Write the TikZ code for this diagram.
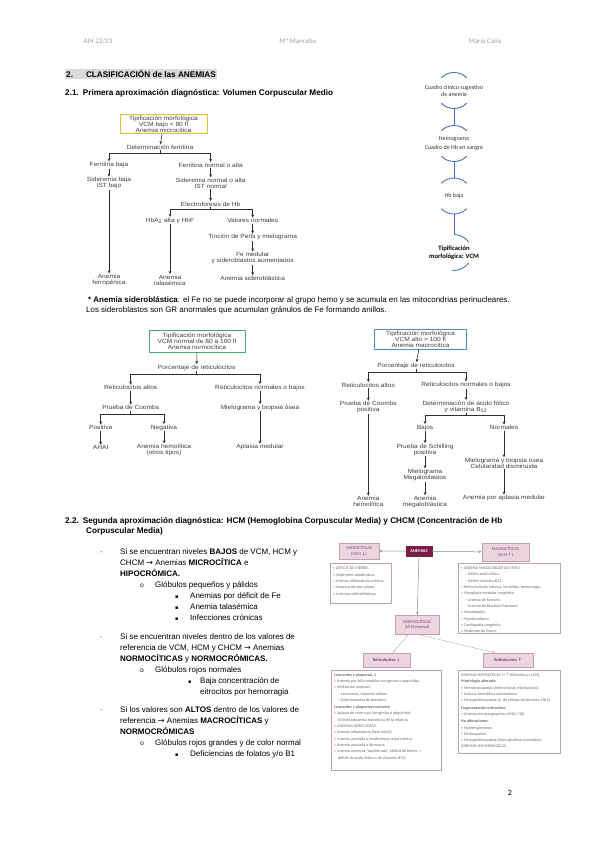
\documentclass[tikz,border=0pt]{standalone}
\usepackage{fontspec}
\setmainfont{Liberation Sans}
\newfontfamily\calibri{Carlito}
\newfontfamily\dejavu{DejaVu Sans}
\newfontfamily\fcfont[FakeStretch=1.1]{Liberation Sans}
\newfontfamily\monofont{Liberation Mono}
\usepackage{tikz}
\usetikzlibrary{arrows.meta}

\definecolor{hdrgray}{HTML}{A0A0A0}
\definecolor{hlgray}{HTML}{D9D9D9}
\definecolor{fctxt}{HTML}{404040}
\definecolor{fcline}{HTML}{2E2E2E}
\definecolor{yellowline}{HTML}{F2BE2C}
\definecolor{greenline}{HTML}{46B06A}
\definecolor{blueline}{HTML}{4A90D0}
\definecolor{smartblue}{HTML}{4472C4}
\definecolor{tblfill}{HTML}{EBD6E0}
\definecolor{tblline}{HTML}{C99BB3}
\definecolor{tblmaroon}{HTML}{7A1C48}
\definecolor{tblhead}{HTML}{7E3A5C}
\definecolor{tbltxt}{HTML}{756870}
\definecolor{tblarrow}{HTML}{8C8C8C}

\newcommand{\arr}{{\dejavu\char"2192}}
\newcommand{\tbul}{\textcolor{tblline}{•}\ }
\newcommand{\tsub}{\hspace*{4pt}– }
\newcommand{\sqbul}{{\dejavu\fontsize{5}{6}\selectfont\char"25AA}}
\newcommand{\obul}{{\monofont\fontsize{6.5}{7}\selectfont o}}
\newcommand{\dn}{{\dejavu\char"2193}}
\newcommand{\up}{{\dejavu\char"2191}}

\tikzset{
  hdr/.style={font=\calibri\fontsize{7}{8}\selectfont, text=hdrgray, inner sep=0pt},
  head/.style={font=\bfseries\fontsize{8.2}{10}\selectfont, anchor=base west, inner sep=0pt},
  body/.style={font=\fontsize{8}{10}\selectfont, anchor=base west, inner sep=0pt},
  fctext/.style={font=\fcfont\fontsize{6}{5.9}\selectfont, text=fctxt, align=center, inner sep=0.6pt},
  fcbox/.style={draw, line width=1pt, inner sep=1pt},
  fcedge/.style={draw=fcline, line width=0.55pt},
  smart/.style={font=\calibri\fontsize{6}{7}\selectfont, text=black!80, align=center, inner sep=0pt},
  sarc/.style={draw=smartblue, line width=0.9pt},
  tblhd/.style={fill=tblfill, draw=tblline, line width=0.4pt, font=\calibri\fontsize{4.3}{5.2}\selectfont, text=tblhead, align=center, inner sep=1pt},
  tblbox/.style={draw=tblline, line width=0.8pt, anchor=north west, inner sep=0pt},
  tbltext/.style={font=\calibri\fontsize{4.1}{6.3}\selectfont, text=tbltxt, align=left, anchor=north west, inner sep=0pt},
  tblarr/.style={draw=tblarrow, line width=0.5pt},
}

\begin{document}
\begin{tikzpicture}[x=1pt,y=-1pt]
\useasboundingbox (0,0) rectangle (599,848);
\fill[white] (0,0) rectangle (599,848);

% page header
\node[hdr] (aih) at (98,41) {AIH 22/23};
\node[hdr] (prof) at (298,41) {Mª Mancebo};
\node[hdr] (alumna) at (485,41) {María Caña};

\node[head, fill=hlgray, inner sep=1pt] (sec2) at (65,77.5) {2.\hspace{13pt}CLASIFICACIÓN de las ANEMIAS};
\node[head] (sec21) at (65,95.5) {2.1.\hspace{4pt}Primera aproximación diagnóstica: Volumen Corpuscular Medio};

% clinical sequence
\begin{scope}[every node/.style={smart}]
    \node (clin) at (454,90.5) {Cuadro clínico sugestivo\\de anemia};
    \node (hemo) at (454,143.5) {Hemograma\\[2pt]Cuadro de Hb en sangre};
    \node (hbbaja) at (454,196) {Hb baja};
    \node[font=\calibri\bfseries\fontsize{6.6}{8}\selectfont, text=black] (tipvcm) at (454,252.5) {Tipificación\\morfológica: VCM};
\end{scope}
\foreach \n in {clin,hemo,hbbaja} {
    \draw[sarc] ([shift={(225:18)}]\n.center) arc[start angle=225,end angle=315,radius=18];
    \draw[sarc] ([shift={(45:18)}]\n.center) arc[start angle=45,end angle=135,radius=18];
}
\draw[sarc] ([yshift=18pt]tipvcm.center) arc[start angle=270,end angle=325,radius=18];
\draw[sarc] ([shift={(35:18)}]tipvcm.center) arc[start angle=35,end angle=95,radius=18];
\draw[sarc] ([yshift=-18pt]clin.center) -- ([yshift=18pt]hemo.center);
\draw[sarc] ([yshift=-18pt]hemo.center) -- ([yshift=18pt]hbbaja.center);
\draw[sarc] ([yshift=-18pt]hbbaja.center) -- ([yshift=18pt]tipvcm.center);

% microcytic flowchart
\begin{scope}[every node/.style={fctext}]
    \node[fcbox, draw=yellowline, minimum width=87pt, minimum height=19.5pt] (ymicro) at (163.5,124) {Tipificación morfológica\\VCM bajo < 80 fl\\Anemia microcítica};
    \node (yferr) at (160,147.3) {Determinación ferritina};
    \node (ybaja) at (109,165) {Ferritina baja};
    \node (ynorm) at (210.7,165) {Ferritina normal o alta};
    \node (ysidb) at (109,183.3) {Sideremia baja\\IST bajo};
    \node (ysidn) at (210.7,183.3) {Sideremia normal o alta\\IST normal};
    \node (yelec) at (210.7,204) {Electroforesis de Hb};
    \node (yhba) at (170,220.7) {HbA\textsubscript{2} alta y HbF};
    \node (yvaln) at (252.7,220.7) {Valores normales};
    \node (yperls) at (252.7,237.3) {Tinción de Perls y mielograma};
    \node (yfemed) at (252.7,258) {Fe medular\\y sideroblastos aumentados};
    \node (yasid) at (252.7,278.3) {Anemia sideroblástica};
    \node (yferro) at (109,280) {Anemia\\ferropénica};
    \node (ytalas) at (170,280) {Anemia\\talasémica};
\end{scope}
\begin{scope}[>={Stealth[length=3.2pt,width=2.8pt]}]
    \path [->] (ymicro) edge [fcedge] (yferr);
    \draw [->,fcedge] (yferr.south) -- ++(0,2.5) -| (ybaja);
    \draw [->,fcedge] (yferr.south) -- ++(0,2.5) -| (ynorm);
    \path [->] (ybaja) edge [fcedge] (ysidb);
    \path [->] (ynorm) edge [fcedge] (ysidn);
    \path [->] (ysidb) edge [fcedge] (yferro);
    \path [->] (ysidn) edge [fcedge] (yelec);
    \draw [->,fcedge] (yelec.south) -- ++(0,2.5) -| (yhba);
    \draw [->,fcedge] (yelec.south) -- ++(0,2.5) -| (yvaln);
    \path [->] (yhba) edge [fcedge] (ytalas);
    \path [->] (yvaln) edge [fcedge] (yperls);
    \path [->] (yperls) edge [fcedge] (yfemed);
    \path [->] (yfemed) edge [fcedge] (yasid);
\end{scope}

% footnote
\node[body, font=\fontsize{7.95}{10}\selectfont] (nota1) at (88,302.5) {\textbf{* Anemia sideroblástica}: el Fe no se puede incorporar al grupo hemo y se acumula en las mitocondrias perinucleares.};
\node[body, font=\fontsize{7.95}{10}\selectfont] (nota2) at (86,312.5) {Los sideroblastos son GR anormales que acumulan gránulos de Fe formando anillos.};

% normocytic flowchart
\begin{scope}[every node/.style={fctext}]
    \node[fcbox, draw=greenline, minimum width=96pt, minimum height=22pt] (gnormo) at (197,341) {Tipificación morfológica\\VCM normal de 80 a 100 fl\\Anemia normocítica};
    \node (gporc) at (196.7,367.7) {Porcentaje de reticulocitos};
    \node (galtos) at (130.7,387.7) {Reticulocitos altos};
    \node (gbajos) at (260,387.7) {Reticulocitos normales o bajos};
    \node (gcoombs) at (130.7,407.7) {Prueba de Coombs};
    \node (gmielo) at (260,407.7) {Mielograma y biopsia ósea};
    \node (gpos) at (100.7,427.7) {Positiva};
    \node (gneg) at (164,427.7) {Negativa};
    \node (gahai) at (100.7,447.7) {AHAI};
    \node (ghemol) at (164,450) {Anemia hemolítica\\(otros tipos)};
    \node (gaplas) at (260,447.3) {Aplasia medular};
\end{scope}
\begin{scope}[>={Stealth[length=3.2pt,width=2.8pt]}]
    \path [->] (gnormo) edge [fcedge] (gporc);
    \draw [->,fcedge] (gporc.south) -- ++(0,3) -| (galtos);
    \draw [->,fcedge] (gporc.south) -- ++(0,3) -| (gbajos);
    \path [->] (galtos) edge [fcedge] (gcoombs);
    \path [->] (gbajos) edge [fcedge] (gmielo);
    \draw [->,fcedge] (gcoombs.south) -- ++(0,3.5) -| (gpos);
    \draw [->,fcedge] (gcoombs.south) -- ++(0,3.5) -| (gneg);
    \path [->] (gpos) edge [fcedge] (gahai);
    \path [->] (gneg) edge [fcedge] (ghemol);
    \path [->] (gmielo) edge [fcedge] (gaplas);
\end{scope}

% macrocytic flowchart
\begin{scope}[every node/.style={fctext}]
    \node[fcbox, draw=blueline, minimum width=92pt, minimum height=20pt] (bmacro) at (420.5,339) {Tipificación morfológica\\VCM alto > 100 fl\\Anemia macrocítica};
    \node (bporc) at (416,365.7) {Porcentaje de reticulocitos};
    \node (baltos) at (368.3,385) {Reticulocitos altos};
    \node (bbajos) at (466,385) {Reticulocitos normales o bajos};
    \node (bcoombs) at (368.3,407.3) {Prueba de Coombs\\positiva};
    \node (bdeter) at (466,406.7) {Determinación de ácido fólico\\y vitamina B\textsubscript{12}};
    \node (bbaj) at (425,427.7) {Bajos};
    \node (bnorm) at (504,427.7) {Normales};
    \node (bschil) at (425,449.7) {Prueba de Schilling\\positiva};
    \node (bmegal) at (425,475) {Mielograma\\Megaloblastos};
    \node (bmegalo) at (425,501.7) {Anemia\\megaloblástica};
    \node (bhemol) at (368.3,501.7) {Anemia\\hemolítica};
    \node (bmielo) at (504,463.3) {Mielograma y biopsia ósea\\Celularidad disminuida};
    \node (baplas) at (504,498.3) {Anemia por aplasia medular};
\end{scope}
\begin{scope}[>={Stealth[length=3.2pt,width=2.8pt]}]
    \path [->] (bmacro) edge [fcedge] (bporc);
    \draw [->,fcedge] (bporc.south) -- ++(0,3) -| (baltos);
    \draw [->,fcedge] (bporc.south) -- ++(0,3) -| (bbajos);
    \path [->] (baltos) edge [fcedge] (bcoombs);
    \path [->] (bbajos) edge [fcedge] (bdeter);
    \path [->] (bcoombs) edge [fcedge] (bhemol);
    \draw [->,fcedge] (bdeter.south) -- ++(0,2) -| (bbaj);
    \draw [->,fcedge] (bdeter.south) -- ++(0,2) -| (bnorm);
    \path [->] (bbaj) edge [fcedge] (bschil);
    \path [->] (bschil) edge [fcedge] (bmegal);
    \path [->] (bmegal) edge [fcedge] (bmegalo);
    \path [->] (bnorm) edge [fcedge] (bmielo);
    \path [->] (bmielo) edge [fcedge] (baplas);
\end{scope}

% section 2.2
\node[head] (sec22) at (65,523.5) {2.2.\hspace{4pt}Segunda aproximación diagnóstica: HCM (Hemoglobina Corpuscular Media) y CHCM (Concentración de Hb};
\node[head] (sec22b) at (86,533.5) {Corpuscular Media)};

\begin{scope}[every node/.style={body}]
    \node[text=black!60] (da) at (100,554.7) {-};
    \node (a1) at (120,554.7) {Si se encuentran niveles \textbf{BAJOS} de VCM, HCM y};
    \node (a2) at (120,565.7) {CHCM \arr{} Anemias \textbf{MICROCÍTICA} e};
    \node (a3) at (120,576.7) {\textbf{HIPOCRÓMICA.}};
    \node (oa) at (140,587.7) {\obul};
    \node (a4) at (155,587.7) {Glóbulos pequeños y pálidos};
    \node (sa1) at (175,598.7) {\sqbul};
    \node (a5) at (190,598.7) {Anemias por déficit de Fe};
    \node (sa2) at (175,609.7) {\sqbul};
    \node (a6) at (190,609.7) {Anemia talasémica};
    \node (sa3) at (175,620.7) {\sqbul};
    \node (a7) at (190,620.7) {Infecciones crónicas};

    \node[text=black!60] (db) at (100,639.7) {-};
    \node (b1) at (120,639.7) {Si se encuentran niveles dentro de los valores de};
    \node (b2) at (120,650.7) {referencia de VCM, HCM y CHCM \arr{} Anemias};
    \node (b3) at (120,661.7) {\textbf{NORMOCÍTICAS} y \textbf{NORMOCRÓMICAS.}};
    \node (ob) at (140,672.7) {\obul};
    \node (b4) at (155,672.7) {Glóbulos rojos normales};
    \node (sb1) at (188,683.7) {\sqbul};
    \node (b5) at (200,683.7) {Baja concentración de};
    \node (b6) at (200,694.7) {eitrocitos por hemorragia};

    \node[text=black!60] (dc) at (100,712.7) {-};
    \node (c1) at (120,712.7) {Si los valores son \textbf{ALTOS} dentro de los valores de};
    \node (c2) at (120,723.7) {referencia \arr{} Anemias \textbf{MACROCÍTICAS} y};
    \node (c3) at (120,734.7) {\textbf{NORMOCRÓMICAS}};
    \node (oc) at (140,745.7) {\obul};
    \node (c4) at (155,745.7) {Glóbulos rojos grandes y de color normal};
    \node (sc1) at (175,756.7) {\sqbul};
    \node (c5) at (190,756.7) {Deficiencias de folatos y/o B1};
\end{scope}

% classification chart
\node[tblhd, fill=tblmaroon, draw=tblmaroon, text=white, font=\calibri\bfseries\fontsize{4.3}{5}\selectfont, minimum width=26pt, minimum height=9.3pt] (anem) at (419,551.3) {ANEMIAS};
\node[tblhd, minimum width=40pt, minimum height=16pt] (micro) at (359,551) {MICROCÍTICAS\\(VCM \dn)};
\node[tblhd, minimum width=47pt, minimum height=17.7pt] (macro) at (505.3,552) {MACROCÍTICAS\\(VCM \up)};
\node[tblhd, minimum width=44pt, minimum height=19pt] (normo) at (417,624.5) {NORMOCÍTICAS\\(VCM normal)};
\node[tblhd, font=\calibri\bfseries\fontsize{4.3}{5}\selectfont, minimum width=47pt, minimum height=13.7pt] (rdown) at (386.5,660) {Reticulocitos \dn};
\node[tblhd, font=\calibri\bfseries\fontsize{4.3}{5}\selectfont, minimum width=50pt, minimum height=14pt] (rup) at (508,660) {Reticulocitos \up};

\node[tblbox, minimum width=61pt, minimum height=40pt] (mlist) at (330,563.3) {};
\node[tblbox, minimum width=102pt, minimum height=70pt] (Mlist) at (458,563) {};
\node[tblbox, minimum width=110pt, minimum height=100pt] (dlist) at (331,670) {};
\node[tblbox, minimum width=102pt, minimum height=83pt] (ulist) at (458,670) {};

\begin{scope}[every node/.style={tbltext}]
    \node (mlistt) at ([shift={(3,3)}]mlist.north west) {\tbul DÉFICIT DE HIERRO.\\\tbul Síndromes talasémicos.\\\tbul Anemia inflamatoria crónica.\\\tbul Intoxicación por plomo.\\\tbul Anemias sideroblásticas.};
    \node (Mlistt) at ([shift={(3,3)}]Mlist.north west) {\tbul ANEMIA MEGALOBLÁSTICA (90\%).\\\tsub Déficit ácido fólico.\\\tsub Déficit vitamina B12.\\\tbul Reticulocitosis intensa: hemólisis, hemorragia.\\\tbul Hipoplasia medular congénita:\\\tsub Anemia de Fanconi.\\\tsub Anemia de Blackfan-Diamond.\\\tbul Hepatopatía.\\\tbul Hipotiroidismo.\\\tbul Cardiopatía congénita.\\\tbul Síndrome de Down.};
    \node (dlistt) at ([shift={(3,3)}]dlist.north west) {\textbf{Leucocitos y plaquetas \dn}\\\tbul Anemia por fallo medular (congénita o adquirida).\\\tbul Infiltración medular:\\\tsub Leucemias, tumores sólidos.\\\tsub Enfermedades de depósito.\\[1pt]\textbf{Leucocitos y plaquetas normales:}\\\tbul Aplasia de serie roja (congénita o adquirida):\\\hspace*{4pt}Eritroblastopenia transitoria de la infancia.\\\tbul ANEMIAS INFECCIOSAS.\\\tbul Anemia inflamatoria (fase inicial).\\\tbul Anemia asociada a insuficiencia renal crónica.\\\tbul Anemia asociada a fármacos.\\\tbul Anemia carencial “equilibrada” (déficit de hierro, +\\\hspace*{4pt}déficit de ácido fólico o de vitamina B12).};
    \node (ulistt) at ([shift={(3,3)}]ulist.north west) {ANEMIAS HEMOLÍTICAS (+ \up{} Bilirrubina y LDH).\\\textbf{Morfología alterada:}\\\tbul Membranopatías (esferocitosis, eliptocitosis).\\\tbul Anemia hemolítica autoinmune.\\\tbul Hemoglobinopatías (A. de células falciformes: Hb S).\\[1pt]\textbf{Fragmentación eritrocitos:}\\\tbul Anemia microangiopática (SHU, CID).\\[1pt]\textbf{No alteraciones:}\\\tbul Hiperesplenismo.\\\tbul Enzimopatías.\\\tbul Hemoglobinopatías (Hemoglobinas inestables).\\ANEMIAS HEMORRÁGICAS.};
\end{scope}

\begin{scope}[>={Stealth[length=3pt,width=2.4pt]}]
    \path [->] (anem) edge [tblarr] (micro);
    \path [->] (anem) edge [tblarr] (macro);
    \path [->] (anem) edge [tblarr] (normo);
    \path [->] (normo) edge [tblarr, draw=tblarrow!60] (rdown);
    \draw [->,tblarr, draw=tblarrow!60] (normo.south) -- ([xshift=-13pt]rup.north);
\end{scope}

\node[font=\calibri\fontsize{8}{9}\selectfont, inner sep=0pt] (pagina) at (510,793) {2};
\end{tikzpicture}
\end{document}
